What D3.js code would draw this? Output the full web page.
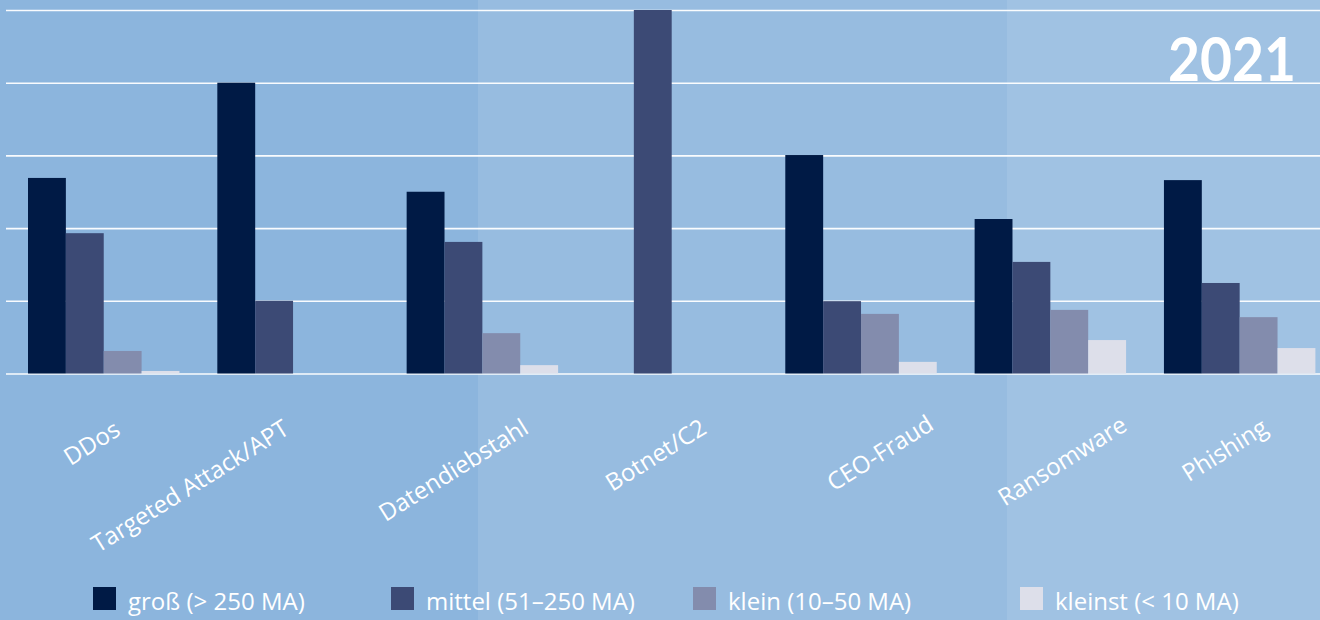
<!DOCTYPE html>
<html><head><meta charset="utf-8">
<script src="https://cdn.jsdelivr.net/npm/d3@7"></script>
<style>
html,body{margin:0;padding:0;background:#8cb5dd;}
svg{display:block;}
text{font-family:"Open Sans","Noto Sans",sans-serif;fill:#fff;}
</style></head>
<body><svg id="c" width="1320" height="620"></svg>
<script>
// ---- data ----
const categories = ["DDos","Targeted Attack/APT","Datendiebstahl","Botnet/C2","CEO-Fraud","Ransomware","Phishing"];
const seriesNames = ["groß (> 250 MA)","mittel (51–250 MA)","klein (10–50 MA)","kleinst (< 10 MA)"];
const gross   = [53.8, 80.0, 50.0,   0, 60.1, 42.5, 53.2];
const mittel  = [38.6, 20.0, 36.2, 100, 19.9, 30.7, 24.9];
const klein   = [ 6.2,    0, 11.1,   0, 16.4, 17.5, 15.5];
const kleinst = [ 0.7,    0,  2.3,   0,  3.2,  9.2,  7.0];
const yTicks = [0, 20, 40, 60, 80, 100];
const title = "2021";

// ---- layout ----
const svg = d3.select("#c");
const W = 1320, H = 620;
const colors = ["#001a45", "#3c4a75", "#838cad", "#dddfea"];
const series = [gross, mittel, klein, kleinst];

// background panels
const panels = [[0, 478, "#8cb5dd"], [478, 1007, "#97bce0"], [1007, W, "#a0c2e3"]];
svg.selectAll("rect.bg").data(panels).join("rect").attr("class","bg")
  .attr("x", d => d[0]).attr("y", 0).attr("width", d => d[1]-d[0]).attr("height", H)
  .attr("fill", d => d[2]);

const x0 = d3.scaleBand().domain(categories).range([28, 1315.4]).paddingInner(0.2).paddingOuter(0);
const x1 = d3.scaleBand().domain(d3.range(series.length)).range([0, x0.bandwidth()]).padding(0);
const y = d3.scaleLinear().domain([0, 100]).range([373.5, 10]);

// gridlines via axis
const yAxis = d3.axisLeft(y).tickValues(yTicks).tickSize(-(W - 6)).tickFormat("");
const gy = svg.append("g").attr("transform", "translate(6,0)").call(yAxis);
gy.select(".domain").remove();
gy.selectAll(".tick line").attr("stroke", "#ffffff").attr("stroke-width", 1.6).attr("stroke-opacity", 0.95);

// bars
const groups = svg.append("g").selectAll("g").data(categories).join("g")
  .attr("transform", c => `translate(${x0(c)},0)`);
groups.selectAll("rect").data((c, i) => series.map((s, k) => ({k, v: s[i]})))
  .join("rect")
  .attr("x", d => x1(d.k))
  .attr("width", x1.bandwidth())
  .attr("y", d => y(d.v))
  .attr("height", d => y(0) - y(d.v))
  .attr("fill", d => colors[d.k]);

// category labels (rotated)
const labelDx = [-12, -103, -29, -16, 19, 12, -15];
const labelY  = [443, 486, 470, 455, 453, 461, 450];
svg.append("g").selectAll("text").data(categories).join("text")
  .attr("transform", (c, i) => `translate(${x0(c) + x0.bandwidth()/2 + labelDx[i]},${labelY[i]}) rotate(-32)`)
  .attr("text-anchor", "middle")
  .attr("dy", "0.35em")
  .style("font-size", "24px")
  .text(c => c);

// title
svg.append("text").attr("x", 1296).attr("y", 81).attr("text-anchor", "end")
  .style("font-size", "62px").style("font-weight", "700").style("font-family", "Lato, 'Open Sans', sans-serif")
  .attr("textLength", 128).attr("lengthAdjust", "spacingAndGlyphs")
  .text(title);

// legend
const legendX = [93, 391, 693, 1020];
const lg = svg.append("g").selectAll("g").data(seriesNames).join("g")
  .attr("transform", (d, i) => `translate(${legendX[i]},587)`);
lg.append("rect").attr("width", 23).attr("height", 23).attr("fill", (d, i) => colors[i]);
lg.append("text").attr("x", 35).attr("y", 23).style("font-size", "24px").text(d => d);
</script></body></html>
